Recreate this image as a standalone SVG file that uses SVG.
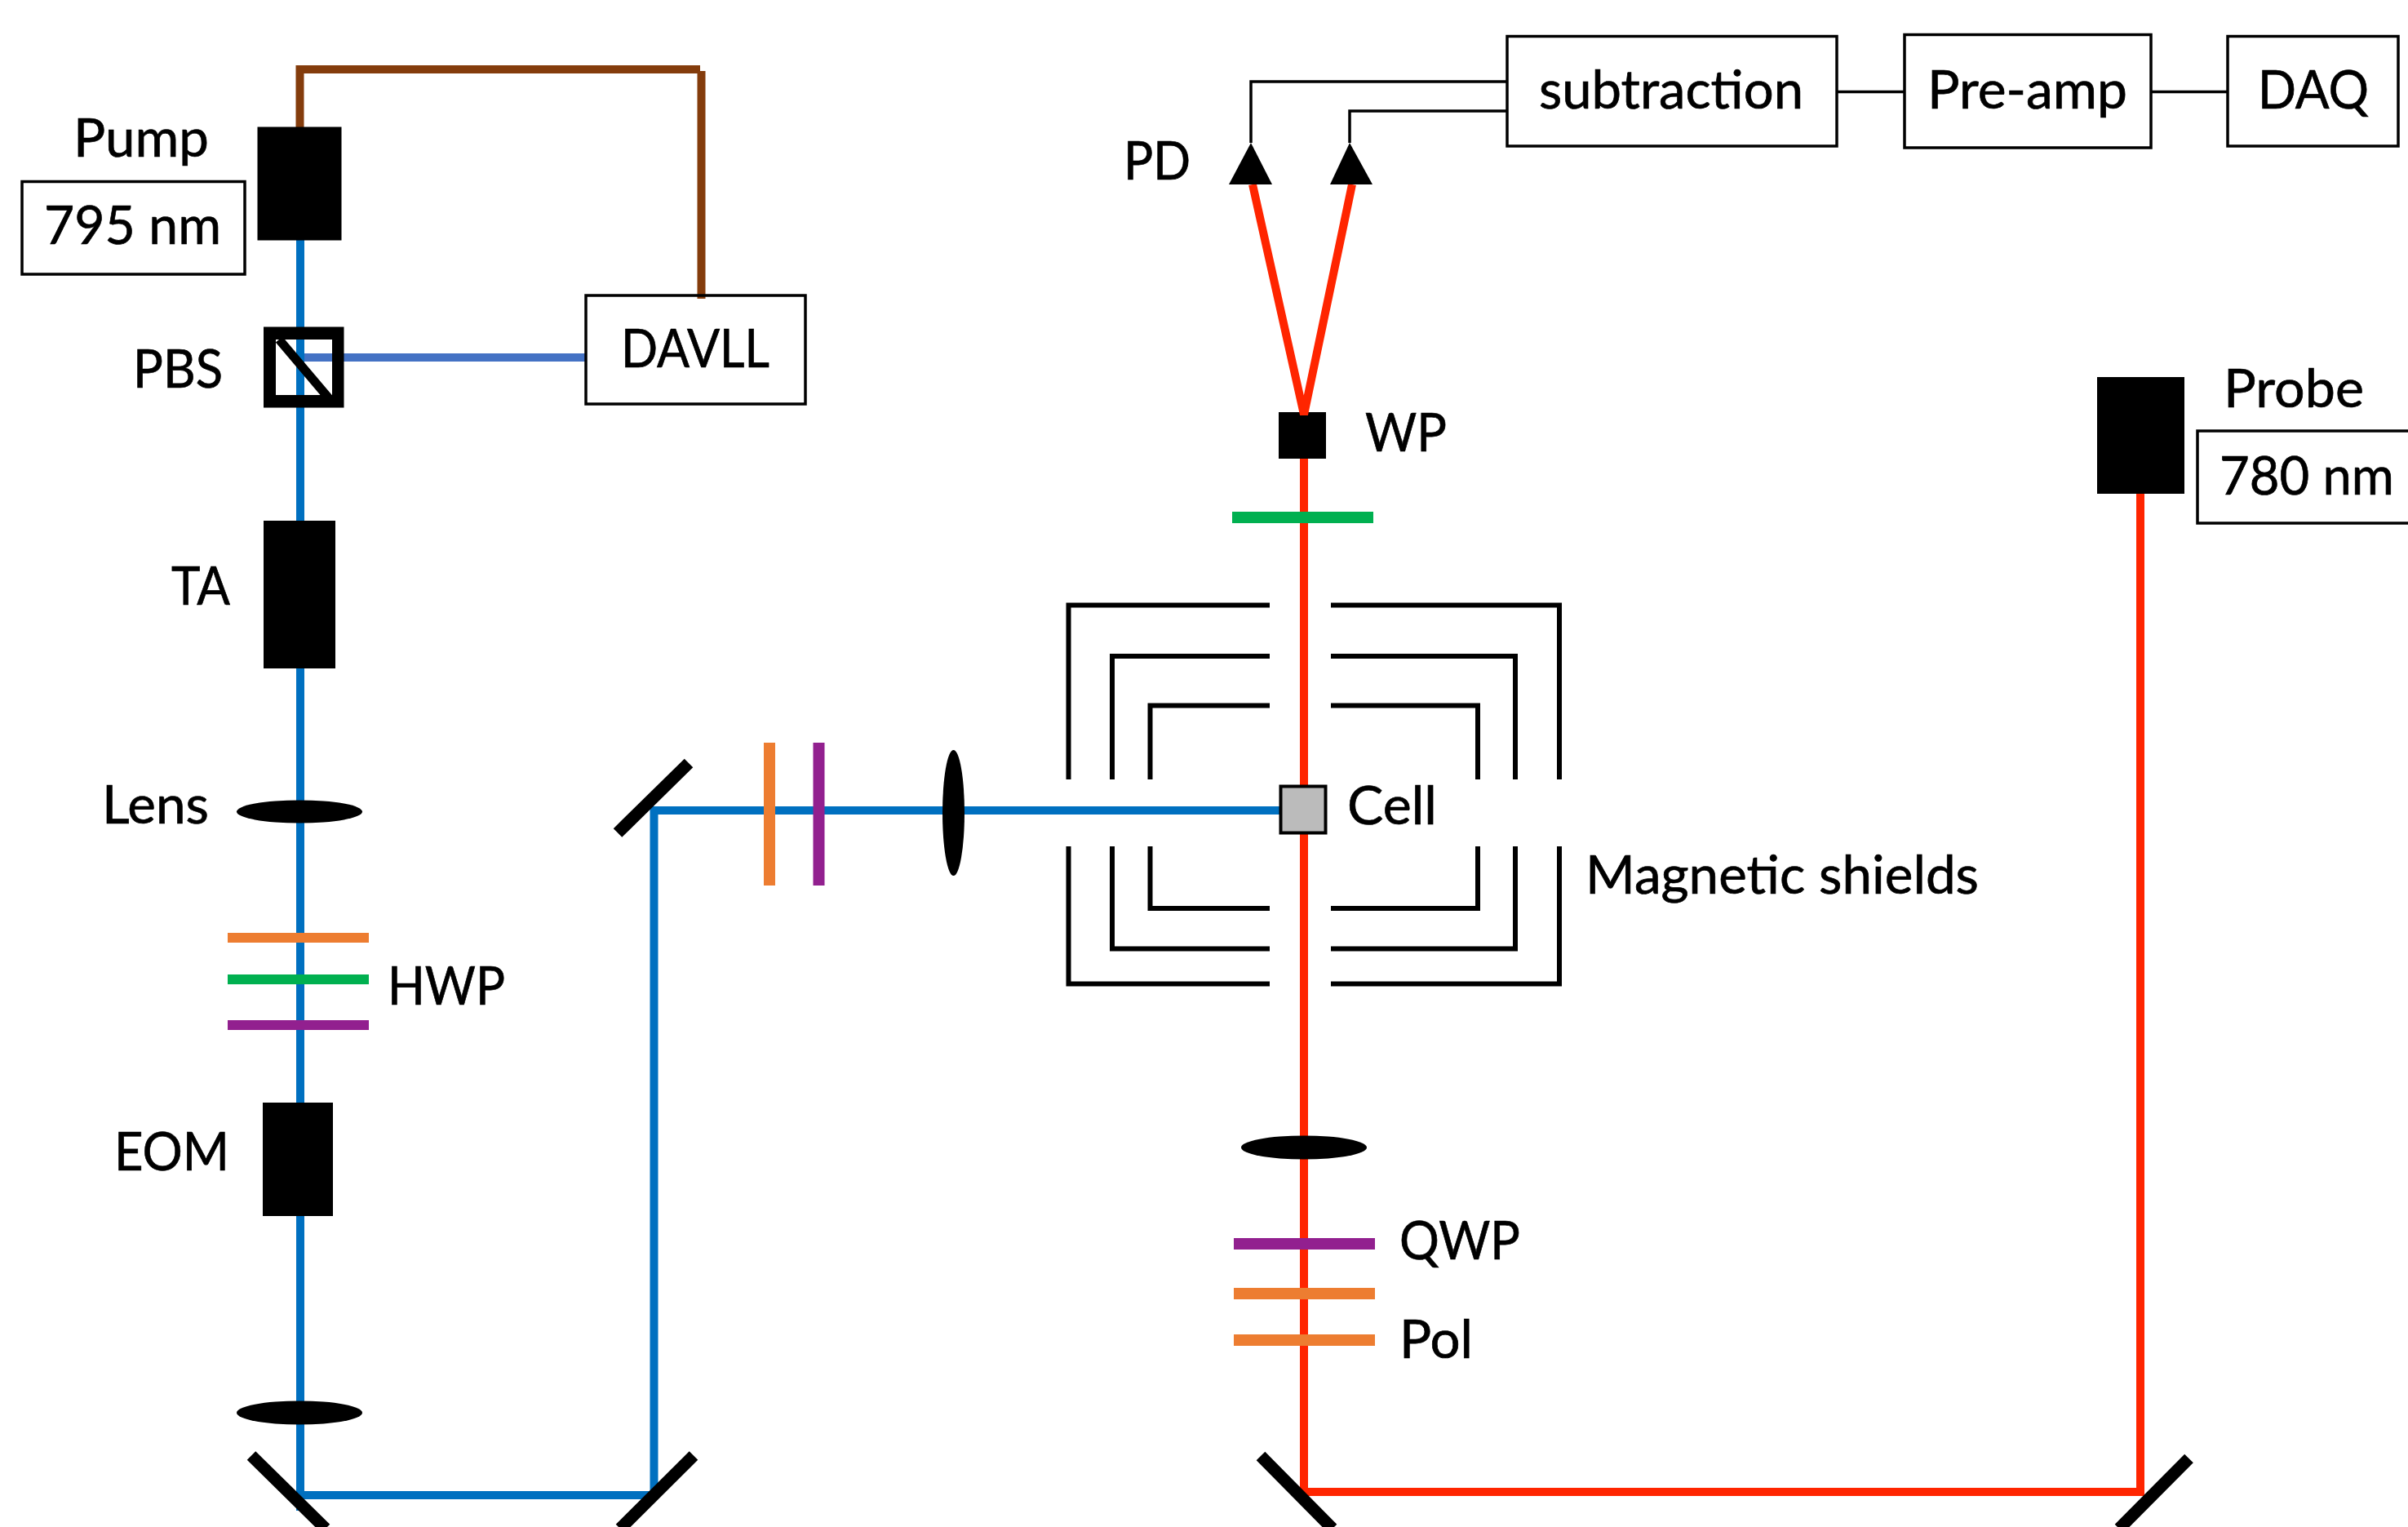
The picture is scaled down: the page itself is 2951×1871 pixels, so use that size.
<svg xmlns="http://www.w3.org/2000/svg" width="2951" height="1871" viewBox="0 0 2951 1871">
<style>
text{font-family:"Lato","Liberation Sans",sans-serif;font-size:66px;fill:#000;stroke:#000;stroke-width:.7}
.box{fill:none;stroke:#000;stroke-width:3.5}
.k{fill:#000}
.beam{fill:none;stroke-width:10;stroke-linejoin:miter}
.blue{stroke:#0070C0}.red{stroke:#FF2500}
.wire{fill:none;stroke:#000;stroke-width:3.5}
.shield{fill:none;stroke:#000;stroke-width:6;stroke-linejoin:miter}
.mirror{stroke:#000;stroke-width:15}
.or{fill:#ED7D31}.pu{fill:#92208F}.gr{fill:#00B050}
</style>
<rect width="2951" height="1871" fill="#fff"/>
<g id="wp-beam-splitter"><rect class="k" x="1567" y="505" width="58" height="57"/><text x="1673" y="553" textLength="100" lengthAdjust="spacingAndGlyphs">WP</text></g>
<g id="connectors">
<path class="beam" stroke="#843C0C" d="M367.500 156V85H858"/>
<path class="beam" stroke="#4472C4" d="M368 438H718"/>
<path class="beam" stroke="#843C0C" d="M859.500 87V366"/>
<path class="beam blue" d="M368 294V1851M368 1832H801.500V993H1568"/>
<path class="beam red" d="M1598 562V1828H2623V605"/>
<path class="beam red" d="M1535 226L1598 508L1657 226"/>
<path class="wire" d="M1533 175V100H1847M1654 175V136H1847M2251 112.500H2334M2636 112.500H2730"/>
</g>
<g id="pump"><rect class="k" x="315.500" y="155.500" width="103" height="139"/><text x="90" y="192" textLength="166" lengthAdjust="spacingAndGlyphs">Pump</text></g>
<g id="pump-wavelength"><rect class="box" x="27" y="222.500" width="273" height="113.500"/><text x="54" y="299" textLength="217" lengthAdjust="spacingAndGlyphs">795 nm</text></g>
<g id="pbs"><path class="k" fill-rule="evenodd" d="M323 400.500H421.500V499.500H323ZM338 416V484H407V416Z"/><path stroke="#000" stroke-width="11" d="M342 416L403 488"/><text x="163" y="475" textLength="110" lengthAdjust="spacingAndGlyphs">PBS</text></g>
<g id="davll"><rect class="box" x="718" y="362" width="269" height="133"/><text x="761" y="450" textLength="182" lengthAdjust="spacingAndGlyphs">DAVLL</text></g>
<g id="ta"><rect class="k" x="323" y="638" width="88" height="181"/><text x="210" y="741" textLength="72" lengthAdjust="spacingAndGlyphs">TA</text></g>
<g id="lens-1"><ellipse class="k" cx="367" cy="994.500" rx="77" ry="14"/><text x="125" y="1009" textLength="131" lengthAdjust="spacingAndGlyphs">Lens</text></g>
<g id="hwp"><rect class="or" x="279" y="1143" width="173" height="12"/><rect class="gr" x="279" y="1194" width="173" height="12"/><rect class="pu" x="279" y="1250" width="173" height="12"/><text x="475" y="1231" textLength="144" lengthAdjust="spacingAndGlyphs">HWP</text></g>
<g id="eom"><rect class="k" x="322" y="1351" width="86" height="139"/><text x="140" y="1434" textLength="141" lengthAdjust="spacingAndGlyphs">EOM</text></g>
<g id="lens-2"><ellipse class="k" cx="367" cy="1731" rx="77" ry="14.500"/></g>
<g id="mirror-1"><line class="mirror" x1="308" y1="1783.500" x2="399" y2="1873"/></g>
<g id="mirror-2"><line class="mirror" x1="850" y1="1783.500" x2="760" y2="1873"/></g>
<g id="mirror-3"><line class="mirror" x1="844" y1="935" x2="757" y2="1020.500"/></g>
<g id="pump-optics"><rect class="or" x="936" y="910" width="14" height="175"/><rect class="pu" x="996.500" y="910" width="14" height="175"/><ellipse class="k" cx="1168.500" cy="996" rx="13.500" ry="77"/></g>
<g id="shields">
<path class="shield" d="M1309.500 955V741.500H1556M1363 955V804H1556M1409.500 955V864.500H1556M1631 741.500H1911V955M1631 804H1857V955M1631 864.500H1811V955"/>
<path class="shield" d="M1309.500 1037V1205.500H1556M1363 1037V1162.500H1556M1409.500 1037V1113H1556M1631 1205.500H1911V1037M1631 1162.500H1857V1037M1631 1113H1811V1037"/>
<text x="1943" y="1095" textLength="482" lengthAdjust="spacingAndGlyphs">Magnetic shields</text>
</g>
<g id="cell"><rect x="1569.500" y="963.500" width="55" height="57" fill="#BBBBBB" stroke="#000" stroke-width="4"/><text x="1651" y="1010" textLength="110" lengthAdjust="spacingAndGlyphs">Cell</text></g>
<g id="half-wave-plate"><rect class="gr" x="1510" y="627" width="173" height="14"/></g>
<g id="pd"><path class="k" d="M1533 175L1559 226H1506Z"/><path class="k" d="M1654 175L1682 226H1630Z"/><text x="1377" y="220" textLength="82" lengthAdjust="spacingAndGlyphs">PD</text></g>
<g id="subtraction"><rect class="box" x="1847" y="44.500" width="404" height="134.500"/><text x="1886" y="133" textLength="324" lengthAdjust="spacingAndGlyphs">subtraction</text></g>
<g id="pre-amp"><rect class="box" x="2334" y="42.500" width="302" height="138.500"/><text x="2362" y="133" textLength="245" lengthAdjust="spacingAndGlyphs">Pre-amp</text></g>
<g id="daq"><rect class="box" x="2730" y="44.500" width="209" height="134.500"/><text x="2767" y="133" textLength="136" lengthAdjust="spacingAndGlyphs">DAQ</text></g>
<g id="probe"><rect class="k" x="2570" y="462" width="107" height="143"/><text x="2725" y="499" textLength="172" lengthAdjust="spacingAndGlyphs">Probe</text></g>
<g id="probe-wavelength"><rect class="box" x="2693" y="528" width="270" height="113"/><text x="2720" y="606" textLength="214" lengthAdjust="spacingAndGlyphs">780 nm</text></g>
<g id="lens-3"><ellipse class="k" cx="1598" cy="1406" rx="77" ry="14.500"/></g>
<g id="qwp"><rect class="pu" x="1512" y="1517" width="173" height="14"/><text x="1715" y="1543" textLength="148" lengthAdjust="spacingAndGlyphs">QWP</text></g>
<g id="pol"><rect class="or" x="1512" y="1578" width="173" height="14"/><rect class="or" x="1512" y="1635" width="173" height="14"/><text x="1715" y="1664" textLength="90" lengthAdjust="spacingAndGlyphs">Pol</text></g>
<g id="mirror-4"><line class="mirror" x1="1545" y1="1784" x2="1633" y2="1873"/></g>
<g id="mirror-5"><line class="mirror" x1="2682.500" y1="1787" x2="2597" y2="1873"/></g>
</svg>
